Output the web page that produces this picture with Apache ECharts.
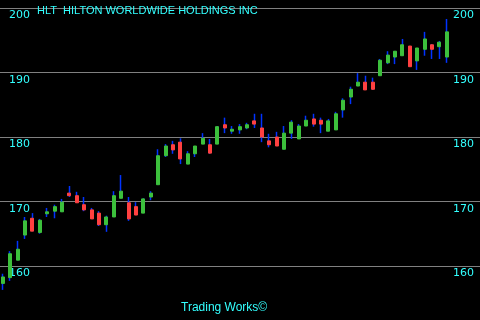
<!DOCTYPE html>
<html>
<head>
<meta charset="utf-8">
<script src="https://cdn.jsdelivr.net/npm/echarts@6/dist/echarts.min.js"></script>
<style>
html,body{margin:0;padding:0;background:#000;}
#chart{width:480px;height:320px;}
</style>
</head>
<body>
<div id="chart"></div>
<script>
var titleText = 'HLT  HILTON WORLDWIDE HOLDINGS INC';
var footerText = 'Trading Works\u00A9';
var yTicks = [150, 160, 170, 180, 190, 200];
var days = [];
for (var d = 1; d <= 61; d++) days.push(String(d));
var padDays = ['', '', '', ''];

var opens  = [157.3,158.2,160.9,164.8,167.4,165.2,168.1,168.5,168.4,171.3,170.9,169.5,168.7,168.2,166.4,167.6,170.5,169.8,169.2,168.2,170.7,172.6,177.1,178.8,179.2,175.8,177.4,178.9,178.8,178.9,181.9,180.9,181.1,181.4,182.5,181.4,179.4,180.0,178.1,180.6,179.7,181.7,182.8,182.6,180.9,181.1,184.2,186.2,187.9,188.5,188.5,189.5,191.5,192.4,192.6,194.1,191.8,193.6,194.3,194.0,192.4];
var closes = [158.3,161.9,162.6,167.0,165.4,167.1,168.4,169.2,169.9,170.9,169.8,168.7,167.3,166.4,167.6,170.9,171.6,167.3,167.9,170.4,171.3,177.1,178.6,178.0,176.6,177.4,178.6,179.8,177.5,181.6,181.4,181.2,181.6,181.9,182.0,180.0,178.8,178.6,180.6,182.3,181.7,182.6,182.0,182.0,182.5,183.6,185.7,187.4,188.5,187.3,187.4,191.9,192.7,193.3,194.3,190.9,193.8,195.2,193.6,194.7,196.3];
var lows   = [156.3,157.7,160.9,164.2,165.4,165.0,167.6,167.4,168.4,170.7,169.8,168.5,167.3,166.2,165.3,167.6,170.5,167.0,167.9,168.2,170.2,172.6,176.9,177.4,175.8,175.8,176.9,178.9,177.4,178.9,180.6,180.5,180.5,181.2,181.4,179.2,178.4,178.6,178.1,179.7,179.7,181.7,181.6,180.6,180.9,181.1,183.0,185.1,187.9,187.3,187.3,189.5,191.3,191.3,192.6,190.9,190.4,192.6,192.1,192.1,191.5];
var highs  = [158.8,162.3,163.9,167.6,168.2,167.3,169.0,169.5,170.4,172.4,171.5,170.7,169.0,168.5,167.8,171.6,174.1,170.7,169.9,170.5,171.6,178.1,178.9,179.4,179.8,177.8,178.6,180.6,179.7,181.7,183.0,181.7,182.0,182.2,183.6,183.6,180.5,180.8,181.7,182.6,182.0,183.3,183.6,183.0,182.8,183.9,186.0,187.8,189.9,189.5,189.2,192.1,193.3,193.3,195.2,194.1,193.8,196.3,194.4,194.9,198.3];

var full = [], bodies = [];
for (var i = 0; i < opens.length; i++) {
  full.push([opens[i], closes[i], lows[i], highs[i]]);
  var lo = Math.min(opens[i], closes[i]), hi = Math.max(opens[i], closes[i]);
  bodies.push([opens[i], closes[i], lo, hi]);
}

var chart = echarts.init(document.getElementById('chart'), null, {renderer: 'canvas'});
var labelFont = {color: '#33ffff', fontFamily: 'DejaVu Sans, sans-serif', fontSize: 11};
chart.setOption({
  animation: false,
  backgroundColor: '#000',
  title: {
    text: titleText, left: 32, top: 0,
    textStyle: {color: '#33ffff', fontWeight: 'normal', fontSize: 11, fontFamily: 'Liberation Sans, Arial, sans-serif'}
  },
  graphic: [{
    type: 'text', left: 181, top: 302,
    style: {text: footerText, fill: '#33ffff', font: '12px "Liberation Sans", Arial, sans-serif'}
  }],
  grid: {left: -1, width: 481, top: 8, height: 322.5, outerBoundsMode: 'none', containLabel: false},
  xAxis: {
    type: 'category', data: days.concat(padDays), boundaryGap: true,
    axisLine: {show: false}, axisTick: {show: false}, axisLabel: {show: false}, splitLine: {show: false}
  },
  yAxis: [{
    type: 'value', position: 'left', min: yTicks[0], max: yTicks[yTicks.length - 1], interval: 10,
    axisLine: {show: false}, axisTick: {show: false},
    splitLine: {show: true, lineStyle: {color: '#808080', width: 1}},
    axisLabel: Object.assign({inside: true, margin: 10, verticalAlign: 'top', padding: [2, 0, 0, 0]}, labelFont)
  }, {
    type: 'value', position: 'right', min: yTicks[0], max: yTicks[yTicks.length - 1], interval: 10,
    axisLine: {show: false}, axisTick: {show: false}, splitLine: {show: false},
    axisLabel: Object.assign({inside: true, margin: 6, verticalAlign: 'top', padding: [2, 0, 0, 0]}, labelFont)
  }],
  series: [{
    type: 'candlestick', data: full, barWidth: 1,
    itemStyle: {color: '#0033ff', color0: '#0033ff', borderColor: '#0033ff', borderColor0: '#0033ff', borderWidth: 1.5}
  }, {
    type: 'candlestick', data: bodies, barWidth: 3.5,
    itemStyle: {color: '#3cc03c', color0: '#ff4040', borderColor: '#3cc03c', borderColor0: '#ff4040', borderWidth: 1}
  }]
});
</script>
</body>
</html>
